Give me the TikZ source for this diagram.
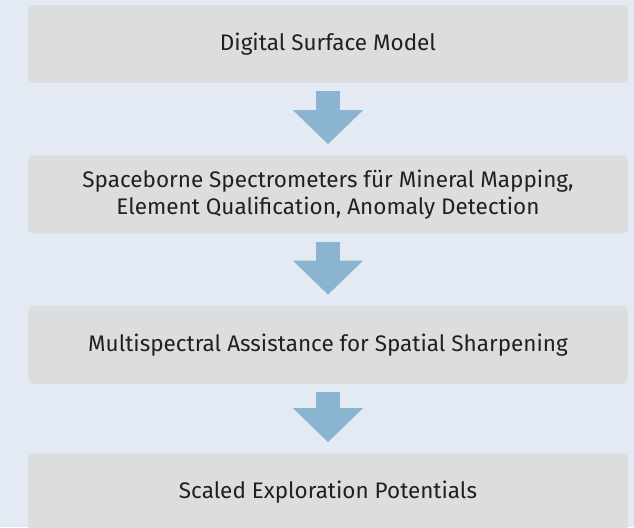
\documentclass[tikz,border=0pt]{standalone}
\usepackage{fontspec}
\setmainfont{Fira Sans}
\usepackage{tikz}
\usetikzlibrary{arrows.meta, positioning}
\definecolor{bgblue}{RGB}{227,234,244}
\definecolor{boxgray}{RGB}{220,221,223}
\definecolor{arrowblue}{RGB}{138,180,208}
\definecolor{txtdark}{RGB}{35,31,32}
\tikzset{
  block/.style={rectangle, fill=boxgray, text=txtdark,
    minimum width=17.99cm, minimum height=2.34cm, align=center,
    font=\fontsize{19.2}{23}\selectfont, rounded corners=4pt, inner sep=0pt},
  flow/.style={draw=arrowblue, line width=0.72cm,
    -{Triangle[width=2.04cm, length=1.02cm, color=arrowblue]},
    shorten <=0.24cm, shorten >=0.33cm}
}

\begin{document}
\begin{tikzpicture}
  % Background
  \clip (0,0) rectangle (19.02,15.81);
  \fill[bgblue] (0,0) rectangle (19.02,15.81);

  % Boxes
  \node[block] (dsm) at (9.84,14.49) {Digital Surface Model};
  \node[block, below=2.16cm of dsm] (spec) {Spaceborne Spectrometers für Mineral Mapping,\\
    Element Qualification, Anomaly Detection};
  \node[block, below=2.16cm of spec] (multi) {Multispectral Assistance for Spatial Sharpening};
  \node[block, below=2.07cm of multi] (expl) {Scaled Exploration Potentials};

  % Arrows
  \draw[flow] (dsm) -- (spec);
  \draw[flow] (spec) -- (multi);
  \draw[flow] (multi) -- (expl);
\end{tikzpicture}
\end{document}
